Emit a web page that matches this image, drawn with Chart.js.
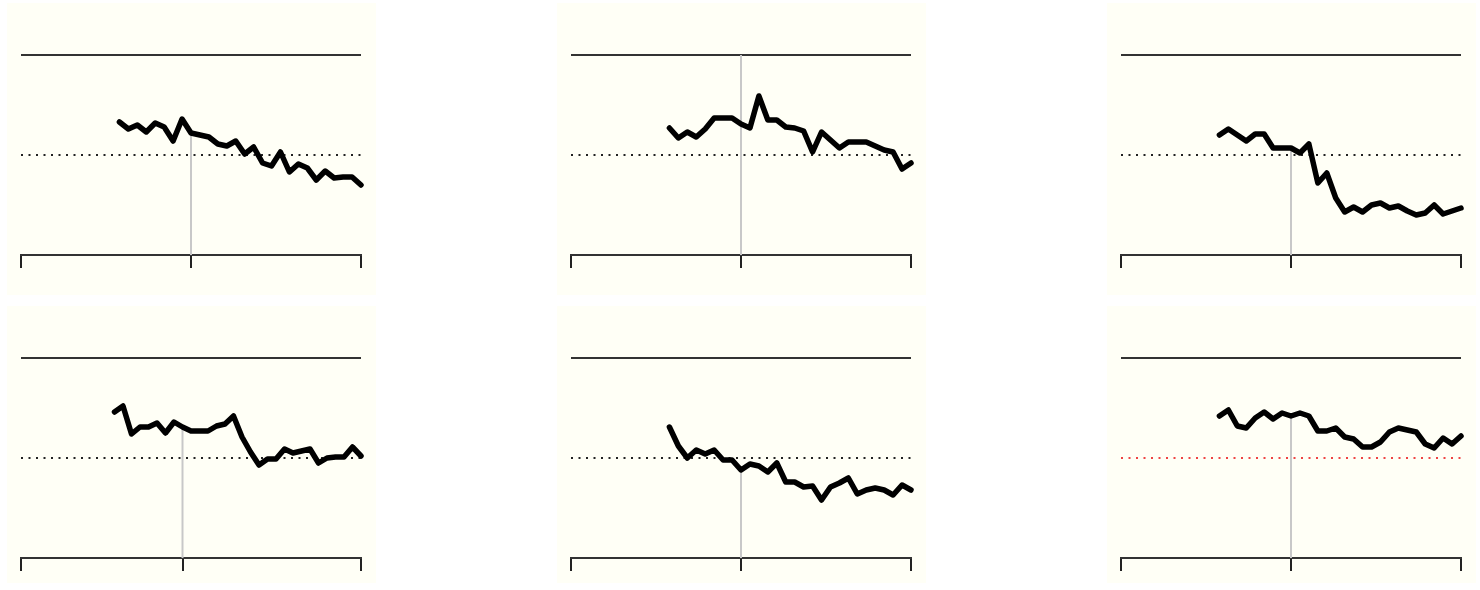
<!DOCTYPE html>
<html>
<head>
<meta charset="utf-8">
<script src="https://cdn.jsdelivr.net/npm/chart.js@4/dist/chart.umd.min.js"></script>
<style>
  body { margin: 0; background: #fff; width: 1480px; height: 590px; position: relative; overflow: hidden; }
  canvas { position: absolute; background: #fffff6; }
</style>
</head>
<body>
<canvas id="c0" width="369" height="292" style="left:7px;top:3px"></canvas>
<canvas id="c1" width="369" height="292" style="left:557px;top:3px"></canvas>
<canvas id="c2" width="369" height="292" style="left:1107px;top:3px"></canvas>
<canvas id="c3" width="369" height="277" style="left:7px;top:306px"></canvas>
<canvas id="c4" width="369" height="277" style="left:557px;top:306px"></canvas>
<canvas id="c5" width="369" height="277" style="left:1107px;top:306px"></canvas>
<script>
// values, one array per small chart (ratio, 1 = reference)
const series1 = [1.33, 1.26, 1.30, 1.23, 1.32, 1.28, 1.14, 1.36, 1.22, 1.20, 1.18, 1.11, 1.09, 1.14,
                 1.01, 1.08, 0.92, 0.89, 1.03, 0.83, 0.91, 0.87, 0.75, 0.84, 0.77, 0.78, 0.78, 0.70];
const series2 = [1.27, 1.17, 1.23, 1.18, 1.26, 1.37, 1.37, 1.37, 1.31, 1.27, 1.59, 1.35, 1.35, 1.28,
                 1.27, 1.24, 1.03, 1.23, 1.15, 1.07, 1.13, 1.13, 1.13, 1.09, 1.05, 1.03, 0.86, 0.92];
const series3 = [1.20, 1.26, 1.20, 1.14, 1.21, 1.21, 1.07, 1.07, 1.07, 1.02, 1.11, 0.72, 0.82, 0.57,
                 0.43, 0.48, 0.43, 0.50, 0.52, 0.47, 0.49, 0.44, 0.40, 0.42, 0.50, 0.41, 0.44, 0.47];
const series4 = [1.46, 1.52, 1.24, 1.31, 1.31, 1.35, 1.25, 1.36, 1.31, 1.27, 1.27, 1.27, 1.32, 1.34, 1.42,
                 1.21, 1.06, 0.93, 0.99, 0.99, 1.09, 1.05, 1.07, 1.09, 0.95, 1.00, 1.01, 1.01, 1.11, 1.02];
const series5 = [1.31, 1.12, 1.00, 1.08, 1.04, 1.08, 0.98, 0.98, 0.88, 0.94, 0.92, 0.86, 0.95, 0.76,
                 0.76, 0.71, 0.72, 0.58, 0.71, 0.75, 0.80, 0.64, 0.68, 0.70, 0.68, 0.63, 0.73, 0.68];
const series6 = [1.42, 1.48, 1.32, 1.30, 1.40, 1.46, 1.39, 1.45, 1.42, 1.45, 1.42, 1.27, 1.27, 1.30,
                 1.21, 1.19, 1.11, 1.11, 1.16, 1.26, 1.30, 1.28, 1.26, 1.14, 1.10, 1.20, 1.14, 1.22];

const allSeries = [series1, series2, series3, series4, series5, series6];
const firstPeriod = 11;                       // first period with data
const lastPeriod = [38, 38, 38, 40, 38, 38];   // right end of each x axis
const eventPeriod = [19, 19, 19, 19, 19, 19];  // marked period (grey line + middle tick)
const eventTop = [null, 2, null, null, null, null]; // grey line height, null = up to the series
const refLevel = 1;
const yMax = 2;
const refColors = ['#222', '#222', '#222', '#222', '#222', '#ee4444'];

function makeChart(i) {
  const vals = allSeries[i];
  const pts = vals.map((v, k) => ({ x: firstPeriod + k, y: v }));
  const ev = eventPeriod[i];
  const top = eventTop[i] !== null ? eventTop[i] : vals[ev - firstPeriod];
  const bottomPad = i < 3 ? 27 : 12;

  new Chart(document.getElementById('c' + i), {
    type: 'line',
    data: {
      datasets: [
        {
          data: pts,
          borderColor: '#000',
          borderWidth: 5.5,
          borderJoinStyle: 'round',
          borderCapStyle: 'round',
          pointRadius: 0,
          tension: 0,
          clip: false,
          order: 0
        },
        {
          data: [{ x: 0, y: refLevel }, { x: lastPeriod[i], y: refLevel }],
          borderColor: refColors[i],
          borderWidth: 2,
          borderDash: [2, 5.5],
          pointRadius: 0,
          order: 1
        },
        {
          data: [{ x: ev, y: 0 }, { x: ev, y: top }],
          borderColor: '#c8c8c8',
          borderWidth: 2,
          pointRadius: 0,
          order: 2
        }
      ]
    },
    options: {
      responsive: false,
      animation: false,
      devicePixelRatio: 1,
      layout: { padding: { top: 52, left: 14, right: 15, bottom: bottomPad } },
      plugins: { legend: { display: false }, tooltip: { enabled: false } },
      scales: {
        x: {
          type: 'linear',
          min: 0,
          max: lastPeriod[i],
          afterBuildTicks: s => { s.ticks = [{ value: 0 }, { value: ev }, { value: lastPeriod[i] }]; },
          ticks: { display: false },
          grid: { drawOnChartArea: false, drawTicks: true, tickLength: 13, tickColor: '#222', lineWidth: 2 },
          border: { display: true, color: '#333', width: 2 }
        },
        y: {
          min: 0,
          max: yMax,
          afterBuildTicks: s => { s.ticks = [{ value: yMax }]; },
          ticks: { display: false },
          grid: { drawTicks: false, color: '#333', lineWidth: 2 },
          border: { display: false }
        }
      }
    }
  });
}

for (let i = 0; i < 6; i++) makeChart(i);
</script>
</body>
</html>
